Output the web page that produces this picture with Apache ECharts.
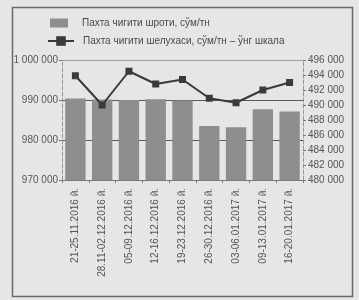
<!DOCTYPE html>
<html>
<head>
    <meta charset="utf-8">
    <title>Пахта чигити</title>
    <script src="https://cdn.jsdelivr.net/npm/echarts@6/dist/echarts.min.js"></script>
    <style>
        html, body { margin: 0; padding: 0; background: #e6e6e4; }
    </style>
</head>
<body>
    <div id="main" style="width: 359px;height:300px;"></div>
    <script type="text/javascript">
        var myChart = echarts.init(document.getElementById('main'));

        // категориялар (ҳафталар)
        var weeks = ['21-25.11.2016 й.', '28.11-02.12.2016 й.', '05-09.12.2016 й.', '12-16.12.2016 й.',
            '19-23.12.2016 й.', '26-30.12.2016 й.', '03-06.01.2017 й.', '09-13.01.2017 й.', '16-20.01.2017 й.'];
        // шрот нархи, сўм/тн (чап шкала)
        var shrot = [990400, 990100, 990000, 990200, 989900, 983500, 983200, 987700, 987100];
        // шелуха нархи, сўм/тн (ўнг шкала)
        var sheluha = [493900, 490000, 494500, 492800, 493400, 490900, 490300, 492000, 493000];

        var nameBar = 'Пахта чигити шроти, сўм/тн';
        var nameLine = 'Пахта чигити шелухаси, сўм/тн – ўнг шкала';

        function spaced(v) {
            return String(v).replace(/\B(?=(\d{3})+(?!\d))/g, ' ');
        }

        var font = 'Liberation Sans, Arial, sans-serif';

        var option = {
            backgroundColor: '#e6e6e4',
            textStyle: { fontFamily: font },
            graphic: [{
                type: 'rect',
                shape: { x: 12.5, y: 7.5, width: 340, height: 289 },
                style: { fill: 'none', stroke: '#6a6a6a', lineWidth: 1.5 }
            }],
            legend: [{
                data: [{ name: nameBar, icon: 'rect' }],
                left: 45, top: 13,
                itemWidth: 18, itemHeight: 9,
                textStyle: { fontSize: 10, color: '#4a4a4a', fontFamily: font, padding: [0, 0, 0, 9] }
            }, {
                data: [nameLine],
                left: 42, top: 31,
                itemWidth: 26, itemHeight: 12,
                textStyle: { fontSize: 10, color: '#4a4a4a', fontFamily: font, padding: [0, 0, 0, 4] }
            }],
            grid: { left: 62, right: 56, top: 60, bottom: 120 },
            xAxis: {
                type: 'category',
                data: weeks,
                axisLine: { lineStyle: { color: '#777' } },
                axisTick: { show: true, length: 3, lineStyle: { color: '#777' } },
                axisLabel: { rotate: 90, fontSize: 10, color: '#555', margin: 8, fontFamily: font }
            },
            yAxis: [{
                type: 'value',
                min: 970000, max: 1000000, interval: 10000,
                axisLine: { show: true, lineStyle: { color: '#999', type: 'dashed' } },
                axisTick: { show: true, length: 3, lineStyle: { color: '#777' } },
                splitLine: { show: true, lineStyle: { color: ['#777', '#5a5a5a', '#5a5a5a', '#a0a0a0'], width: 1 } },
                axisLabel: { fontSize: 10, color: '#555', margin: 4, formatter: spaced, fontFamily: font }
            }, {
                type: 'value',
                min: 480000, max: 496000, interval: 2000,
                axisLine: { show: true, lineStyle: { color: '#999', type: 'dashed' } },
                axisTick: { show: true, length: 3, lineStyle: { color: '#777' } },
                splitLine: { show: false },
                axisLabel: { fontSize: 10, color: '#555', margin: 5, formatter: spaced, fontFamily: font }
            }],
            series: [{
                name: nameBar,
                type: 'bar',
                data: shrot,
                barCategoryGap: '24%',
                itemStyle: { color: '#8e8e8e' }
            }, {
                name: nameLine,
                type: 'line',
                yAxisIndex: 1,
                data: sheluha,
                symbol: 'rect',
                symbolSize: 7,
                lineStyle: { color: '#3a3a3a', width: 2 },
                itemStyle: { color: '#3a3a3a' }
            }]
        };

        myChart.setOption(option);
    </script>
</body>
</html>
